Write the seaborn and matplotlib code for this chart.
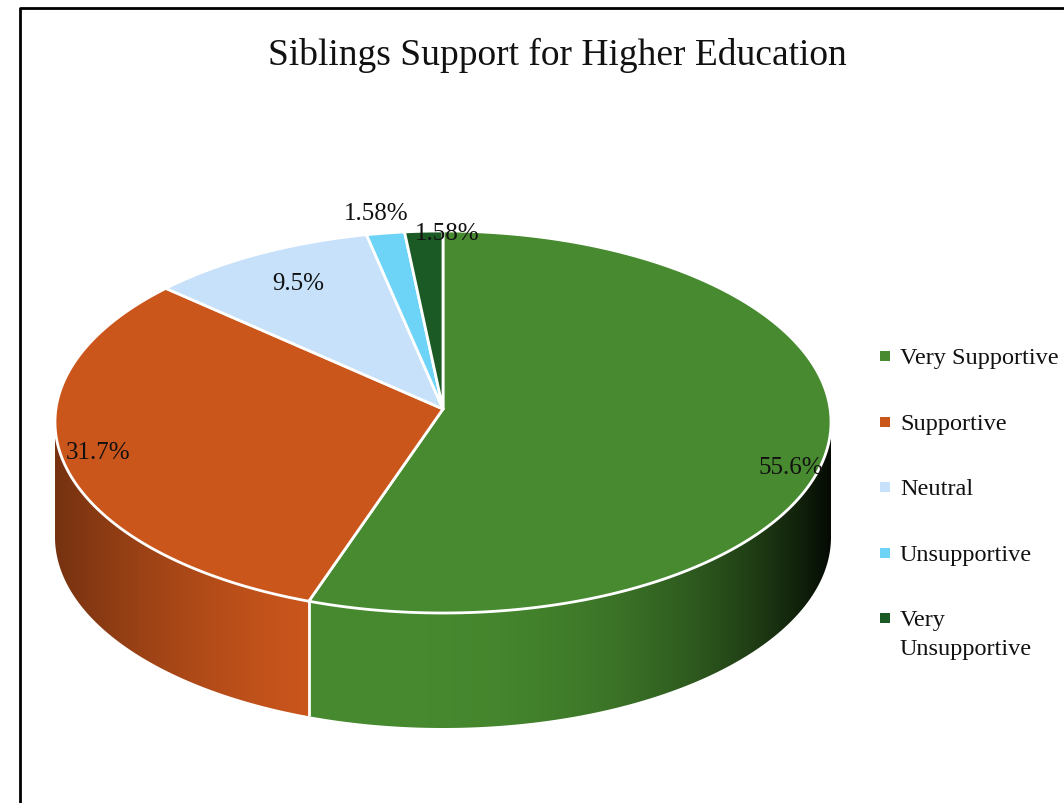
import numpy as np
import matplotlib
matplotlib.use("Agg")
import matplotlib.pyplot as plt
import seaborn as sns
from matplotlib.patches import Polygon

# ---- data -------------------------------------------------------------
categories = ["Very Supportive", "Supportive", "Neutral", "Unsupportive", "Very Unsupportive"]
legend_labels = ["Very Supportive", "Supportive", "Neutral", "Unsupportive", "Very\nUnsupportive"]
shares = [55.6, 31.7, 9.5, 1.58, 1.58]
value_labels = ["55.6%", "31.7%", "9.5%", "1.58%", "1.58%"]
title = "Siblings Support for Higher Education"

# ---- style ------------------------------------------------------------
sns.set_theme(style="white")
plt.rcParams["font.family"] = ["Liberation Serif", "DejaVu Serif"]
palette = sns.color_palette(["#478A2F", "#CB561C", "#C7E1FA", "#6DD4F8", "#1C5A25"])
text_color = "#111111"

W, H = 1064, 804
fig = plt.figure(figsize=(W / 100, H / 100), dpi=100)
ax = fig.add_axes([0, 0, 1, 1])
ax.axis("off")

# ---- geometry of the tilted disc (pixel units) -------------------------
cx, cy = 443, 423            # centre of the top ellipse
rx, ry = 388, 191            # radii of the top ellipse
apex = np.array([443, 410])  # point where slices meet (perspective shift)
depth = 115                  # thickness of the disc


def rim(theta_deg):
    t = np.radians(theta_deg)
    return cx + rx * np.sin(t), cy - ry * np.cos(t)


def shade(u):
    """Brightness of the side wall as a function of horizontal position."""
    u = np.asarray(u, dtype=float)
    left = 1 - 0.42 * np.clip((-0.3 - u) / 0.7, 0, 1) ** 1.5
    right = 1 - 0.93 * np.clip((u + 0.3) / 1.3, 0, 1) ** 3
    return np.where(u < -0.3, left, right)


fractions = np.array(shares) / np.sum(shares)
edges = np.concatenate([[0.0], np.cumsum(fractions) * 360.0])

# ---- side walls (front half only), lit with a horizontal gradient -------
cols_x = np.arange(cx - rx - 2, cx + rx + 3, 1.0)
light = shade((cols_x - cx) / rx)
for i, color in enumerate(palette):
    a0, a1 = max(edges[i], 90.0), min(edges[i + 1], 270.0)
    if a1 <= a0:
        continue
    th = np.linspace(a0, a1, 400)
    xs, ys = rim(th)
    outline = np.vstack([np.column_stack([xs, ys]),
                         np.column_stack([xs[::-1], ys[::-1] + depth])])
    wall = Polygon(outline, closed=True, facecolor="none", edgecolor="none")
    ax.add_patch(wall)
    grad = np.clip(np.array(color)[None, None, :] * light[None, :, None], 0, 1)
    img = ax.imshow(grad, extent=[cols_x[0] - 0.5, cols_x[-1] + 0.5,
                                  cy + ry + depth + 5, cy - 5],
                    aspect="auto", interpolation="bilinear", zorder=1)
    img.set_clip_path(wall)

# white seams where slices meet on the visible wall
for a in edges[1:-1]:
    if 90.0 < a < 270.0:
        x, y = rim(a)
        ax.plot([x, x], [y, y + depth], color="white", lw=2,
                solid_capstyle="butt", zorder=2)

# ---- top faces ----------------------------------------------------------
for i, color in enumerate(palette):
    th = np.linspace(edges[i], edges[i + 1],
                     max(int((edges[i + 1] - edges[i]) / 0.3), 2) + 1)
    xs, ys = rim(th)
    pts = np.vstack([apex, np.column_stack([xs, ys])])
    ax.add_patch(Polygon(pts, closed=True, facecolor=color, edgecolor="white",
                         lw=2, joinstyle="round", zorder=3))

# ---- value labels -----------------------------------------------------
label_radius = [0.91, 0.91, 0.78, 1.16, 1.0]
label_shift = [(0, 14), (0, -8), (0, -8), (0, 10), (23, 2)]
for i, txt in enumerate(value_labels):
    mid = np.radians((edges[i] + edges[i + 1]) / 2)
    x = cx + rx * label_radius[i] * np.sin(mid) + label_shift[i][0]
    y = cy - ry * label_radius[i] * np.cos(mid) + label_shift[i][1]
    ax.text(x, y, txt, fontsize=18, ha="center", va="center",
            color=text_color, zorder=5)

# ---- title --------------------------------------------------------------
ax.text(557, 65, title, fontsize=27, ha="center", va="baseline", color=text_color)

# ---- legend -------------------------------------------------------------
legend_x, legend_y0, legend_step, line_step = 885, 357, 65.5, 28.5
for i, (lab, c) in enumerate(zip(legend_labels, palette)):
    y = legend_y0 + i * legend_step
    ax.scatter([legend_x], [y], s=60, marker="s", color=c, linewidths=0)
    for k, line in enumerate(lab.split("\n")):
        ax.text(legend_x + 15, y + 7.5 + k * line_step, line, fontsize=17.5,
                ha="left", va="baseline", color=text_color)

# ---- chart frame ----------------------------------------------------------
ax.plot([19.5, 19.5, W + 5], [H + 5, 8.5, 8.5], color="black", lw=2)

ax.set_xlim(0, W)
ax.set_ylim(H, 0)
fig.savefig("out.png", dpi=100)
